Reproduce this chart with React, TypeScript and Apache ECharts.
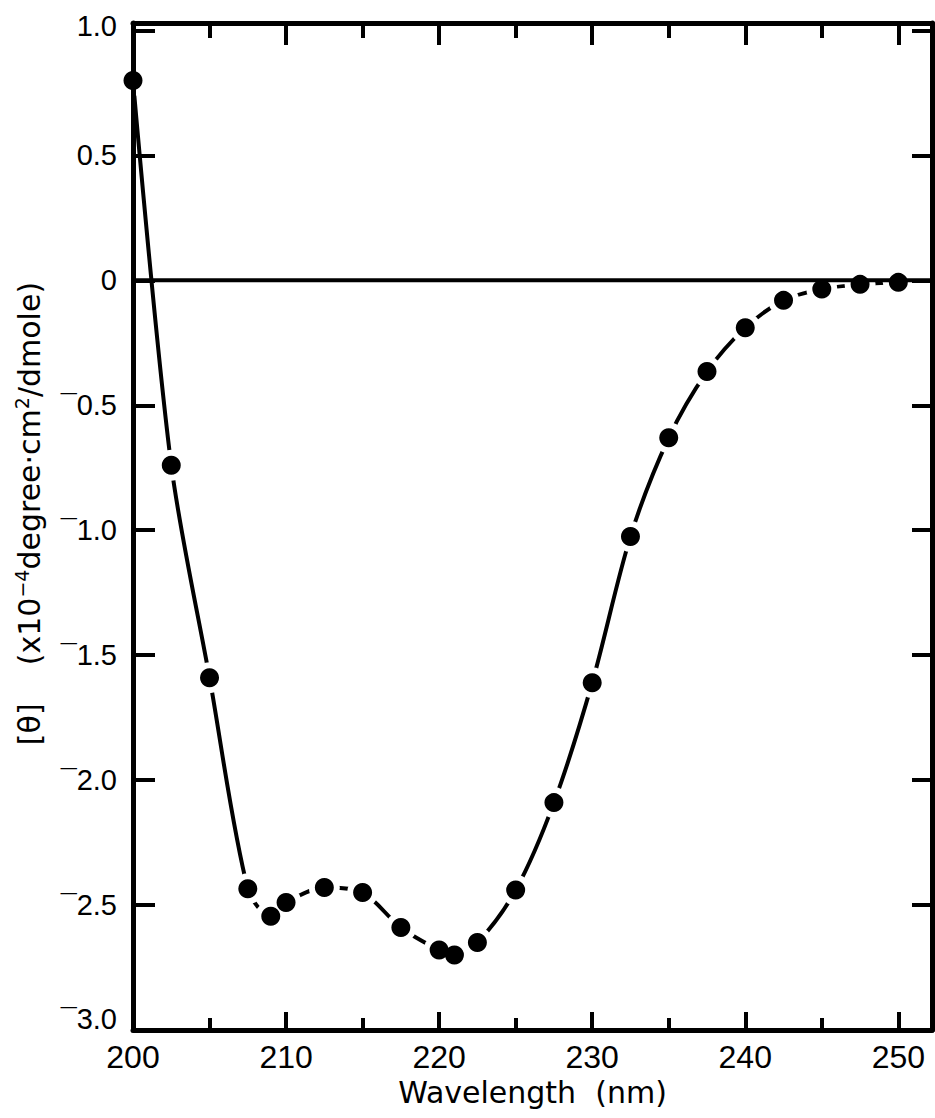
import React, { useEffect, useRef } from "react";
import * as echarts from "echarts";

// Wavelength (nm) of each measured point
const wavelengths = [
  200, 202.5, 205, 207.5, 209, 210, 212.5, 215, 217.5, 220, 221, 222.5,
  225, 227.5, 230, 232.5, 235, 237.5, 240, 242.5, 245, 247.5, 250,
];
// Mean residue ellipticity [θ] (x10^-4 degree·cm²/dmole)
const ellipticity = [
  0.8, -0.74, -1.59, -2.435, -2.545, -2.49, -2.43, -2.45, -2.59, -2.68, -2.7,
  -2.65, -2.44, -2.09, -1.61, -1.025, -0.63, -0.365, -0.19, -0.08, -0.035,
  -0.016, -0.008,
];
const xLabelTicks = [200, 210, 220, 230, 240, 250];
const yLabelTicks = [-3, -2.5, -2, -1.5, -1, -0.5, 0, 0.5, 1];

const X_MIN = 200;
const X_MAX = 252.2;
const Y_MIN = -3;
const Y_MAX = 1.03;

const TICK_FONT = "'Liberation Sans', Arial, sans-serif";
const NAME_FONT = "'DejaVu Sans', sans-serif";

function yLabel(v: number): string {
  const hit = yLabelTicks.find((t) => Math.abs(t - v) < 1e-6);
  if (hit === undefined) return "";
  if (hit === 0) return "0";
  if (hit < 0) {
    const s = "¯" + Math.abs(hit).toFixed(1);
    if (hit === -3) return "{low|" + s + "}";
    return s;
  }
  if (hit === 1) return "{high|" + hit.toFixed(1) + "}";
  return hit.toFixed(1);
}

function xLabel(v: number): string {
  return xLabelTicks.some((t) => Math.abs(t - v) < 1e-6) ? String(v) : "";
}

export default function App() {
  const ref = useRef<HTMLDivElement>(null);

  useEffect(() => {
    if (!ref.current) return;
    const chart = echarts.init(ref.current, null, { renderer: "svg" });
    const pts = wavelengths.map((w, i) => [w, ellipticity[i]]);
    const axisLine = { show: true, onZero: false, lineStyle: { color: "#000", width: 5 } };
    const noLine = { show: false, onZero: false };
    const tickStyle = { color: "#000", width: 4 };

    chart.setOption({
      animation: false,
      backgroundColor: "#fff",
      grid: { left: 133, right: 3, top: 23, bottom: 88, containLabel: false },
      xAxis: [
        {
          type: "value",
          position: "bottom",
          min: X_MIN,
          max: X_MAX,
          interval: 10,
          z: 3,
          axisLine,
          axisTick: { show: true, inside: true, length: 18, lineStyle: tickStyle },
          axisLabel: {
            show: true,
            formatter: xLabel,
            color: "#000",
            fontSize: 32,
            fontFamily: TICK_FONT,
            margin: 11,
            showMaxLabel: true,
          },
          splitLine: { show: false },
          name: "Wavelength  (nm)",
          nameLocation: "middle",
          nameGap: 46,
          nameTextStyle: { color: "#000", fontSize: 30, fontFamily: NAME_FONT },
        },
        {
          type: "value",
          position: "bottom",
          min: X_MIN,
          max: X_MAX,
          interval: 5,
          z: 3,
          axisLine: noLine,
          axisTick: { show: true, inside: true, length: 12, lineStyle: tickStyle },
          axisLabel: { show: false },
          splitLine: { show: false },
        },
        {
          type: "value",
          position: "top",
          min: X_MIN,
          max: X_MAX,
          interval: 10,
          z: 3,
          axisLine,
          axisTick: { show: true, inside: true, length: 22, lineStyle: tickStyle },
          axisLabel: { show: false },
          splitLine: { show: false },
        },
        {
          type: "value",
          position: "top",
          min: X_MIN,
          max: X_MAX,
          interval: 5,
          z: 3,
          axisLine: noLine,
          axisTick: { show: true, inside: true, length: 15, lineStyle: tickStyle },
          axisLabel: { show: false },
          splitLine: { show: false },
        },
      ],
      yAxis: [
        {
          type: "value",
          position: "left",
          min: Y_MIN,
          max: Y_MAX,
          interval: 0.5,
          z: 3,
          axisLine,
          axisTick: { show: true, inside: true, length: 22, lineStyle: tickStyle },
          axisLabel: {
            show: true,
            formatter: yLabel,
            color: "#000",
            fontSize: 29,
            fontFamily: TICK_FONT,
            margin: 16,
            rich: {
              low: {
                color: "#000",
                fontSize: 29,
                fontFamily: TICK_FONT,
                padding: [0, 0, 22, 0],
              },
              high: {
                color: "#000",
                fontSize: 29,
                fontFamily: TICK_FONT,
                padding: [0, 0, 8, 0],
              },
            },
          },
          splitLine: { show: false },
          name: "[θ]    (x10{sup|−4}degree·cm{sup|2}/dmole)",
          nameLocation: "middle",
          nameRotate: 90,
          nameGap: 86,
          nameTextStyle: {
            color: "#000",
            fontSize: 30,
            fontFamily: NAME_FONT,
            padding: [0, 0, 0, 26],
            rich: {
              sup: {
                color: "#000",
                fontSize: 19,
                fontFamily: NAME_FONT,
                verticalAlign: "top",
                padding: [0, 0, 16, 0],
              },
            },
          },
        },
        {
          type: "value",
          position: "right",
          min: Y_MIN,
          max: Y_MAX,
          interval: 0.5,
          z: 3,
          axisLine,
          axisTick: { show: true, inside: true, length: 20, lineStyle: tickStyle },
          axisLabel: { show: false },
          splitLine: { show: false },
        },
      ],
      series: [
        {
          type: "line",
          xAxisIndex: 0,
          yAxisIndex: 0,
          data: pts,
          smooth: 0.3,
          symbol: "none",
          lineStyle: { color: "#000", width: 4 },
          z: 1,
          silent: true,
        },
        {
          type: "scatter",
          xAxisIndex: 0,
          yAxisIndex: 0,
          data: pts,
          symbol: "circle",
          symbolSize: 31,
          itemStyle: { color: "#fff", opacity: 1 },
          z: 2,
          silent: true,
        },
        {
          type: "line",
          xAxisIndex: 0,
          yAxisIndex: 0,
          data: [
            [X_MIN, 0],
            [X_MAX, 0],
          ],
          symbol: "none",
          lineStyle: { color: "#000", width: 4 },
          z: 3,
          silent: true,
        },
        {
          type: "scatter",
          xAxisIndex: 0,
          yAxisIndex: 0,
          data: pts,
          symbol: "circle",
          symbolSize: 19,
          itemStyle: { color: "#000", opacity: 1 },
          z: 4,
          silent: true,
        },
      ],
    });

    return () => chart.dispose();
  }, []);

  return (
    <div
      ref={ref}
      style={{ position: "absolute", left: 0, top: 0, width: 935, height: 1118 }}
    />
  );
}
